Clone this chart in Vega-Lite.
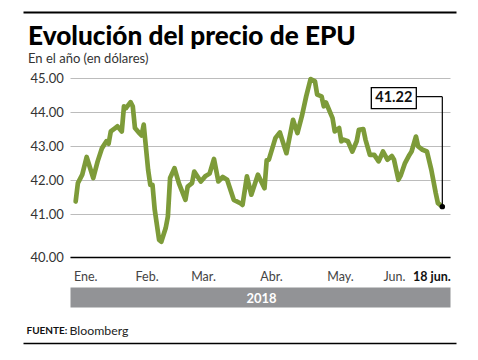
{
  "$schema": "https://vega.github.io/schema/vega-lite/v6.json",
  "width": 380,
  "height": 179,
  "autosize": "none",
  "padding": {"left": 70, "top": 78, "right": 28, "bottom": 103},
  "config": {"view": {"stroke": null}, "font": "Lato", "axis": {"labelFont": "Lato", "titleFont": "Lato"}},
  "title": {
    "text": "Evolución del precio de EPU",
    "subtitle": "En el año (en dólares)",
    "anchor": "start",
    "frame": "group",
    "font": "Lato",
    "fontSize": 26.2,
    "fontWeight": 900,
    "color": "#000",
    "subtitleFont": "Lato",
    "subtitleFontSize": 13,
    "subtitleColor": "#333",
    "subtitlePadding": 3,
    "dx": -42,
    "dy": 58
  },
  "datasets": {
    "series": [
      {"date": "2018-01-02", "price": 41.37},
      {"date": "2018-01-03", "price": 41.91},
      {"date": "2018-01-05", "price": 42.16},
      {"date": "2018-01-07", "price": 42.68},
      {"date": "2018-01-10", "price": 42.06},
      {"date": "2018-01-12", "price": 42.55},
      {"date": "2018-01-14", "price": 42.94},
      {"date": "2018-01-16", "price": 43.14},
      {"date": "2018-01-17", "price": 43.07},
      {"date": "2018-01-18", "price": 43.43},
      {"date": "2018-01-20", "price": 43.53},
      {"date": "2018-01-21", "price": 43.58},
      {"date": "2018-01-23", "price": 43.43},
      {"date": "2018-01-24", "price": 44.17},
      {"date": "2018-01-25", "price": 44.12},
      {"date": "2018-01-27", "price": 44.29},
      {"date": "2018-01-28", "price": 44.17},
      {"date": "2018-01-29", "price": 43.53},
      {"date": "2018-01-31", "price": 43.38},
      {"date": "2018-02-01", "price": 43.31},
      {"date": "2018-02-02", "price": 43.63},
      {"date": "2018-02-04", "price": 42.30},
      {"date": "2018-02-05", "price": 41.86},
      {"date": "2018-02-06", "price": 41.86},
      {"date": "2018-02-07", "price": 41.13},
      {"date": "2018-02-09", "price": 40.24},
      {"date": "2018-02-10", "price": 40.19},
      {"date": "2018-02-12", "price": 40.59},
      {"date": "2018-02-13", "price": 40.93},
      {"date": "2018-02-14", "price": 42.06},
      {"date": "2018-02-16", "price": 42.35},
      {"date": "2018-02-18", "price": 41.91},
      {"date": "2018-02-21", "price": 41.42},
      {"date": "2018-02-22", "price": 41.81},
      {"date": "2018-02-24", "price": 41.91},
      {"date": "2018-02-25", "price": 42.25},
      {"date": "2018-02-28", "price": 41.96},
      {"date": "2018-03-02", "price": 42.11},
      {"date": "2018-03-04", "price": 42.19},
      {"date": "2018-03-06", "price": 42.62},
      {"date": "2018-03-08", "price": 41.96},
      {"date": "2018-03-10", "price": 42.09},
      {"date": "2018-03-12", "price": 42.01},
      {"date": "2018-03-13", "price": 41.81},
      {"date": "2018-03-15", "price": 41.42},
      {"date": "2018-03-18", "price": 41.32},
      {"date": "2018-03-19", "price": 41.27},
      {"date": "2018-03-21", "price": 42.11},
      {"date": "2018-03-23", "price": 41.57},
      {"date": "2018-03-26", "price": 42.16},
      {"date": "2018-03-29", "price": 41.76},
      {"date": "2018-03-30", "price": 42.58},
      {"date": "2018-03-31", "price": 42.60},
      {"date": "2018-04-03", "price": 43.24},
      {"date": "2018-04-05", "price": 43.40},
      {"date": "2018-04-08", "price": 42.79},
      {"date": "2018-04-11", "price": 43.77},
      {"date": "2018-04-13", "price": 43.38},
      {"date": "2018-04-15", "price": 43.87},
      {"date": "2018-04-17", "price": 44.46},
      {"date": "2018-04-19", "price": 44.97},
      {"date": "2018-04-21", "price": 44.90},
      {"date": "2018-04-22", "price": 44.51},
      {"date": "2018-04-24", "price": 44.46},
      {"date": "2018-04-25", "price": 44.17},
      {"date": "2018-04-26", "price": 44.28},
      {"date": "2018-04-29", "price": 43.82},
      {"date": "2018-04-30", "price": 43.43},
      {"date": "2018-05-02", "price": 43.53},
      {"date": "2018-05-03", "price": 43.14},
      {"date": "2018-05-04", "price": 43.19},
      {"date": "2018-05-06", "price": 43.14},
      {"date": "2018-05-08", "price": 42.84},
      {"date": "2018-05-10", "price": 43.14},
      {"date": "2018-05-11", "price": 43.48},
      {"date": "2018-05-13", "price": 43.50},
      {"date": "2018-05-14", "price": 43.19},
      {"date": "2018-05-16", "price": 42.74},
      {"date": "2018-05-18", "price": 42.74},
      {"date": "2018-05-20", "price": 42.55},
      {"date": "2018-05-22", "price": 42.84},
      {"date": "2018-05-24", "price": 42.60},
      {"date": "2018-05-26", "price": 42.71},
      {"date": "2018-05-27", "price": 42.60},
      {"date": "2018-05-29", "price": 42.01},
      {"date": "2018-05-30", "price": 42.13},
      {"date": "2018-06-01", "price": 42.50},
      {"date": "2018-06-03", "price": 42.74},
      {"date": "2018-06-04", "price": 42.84},
      {"date": "2018-06-06", "price": 43.28},
      {"date": "2018-06-07", "price": 42.99},
      {"date": "2018-06-09", "price": 42.89},
      {"date": "2018-06-11", "price": 42.84},
      {"date": "2018-06-13", "price": 42.30},
      {"date": "2018-06-15", "price": 41.62},
      {"date": "2018-06-16", "price": 41.32},
      {"date": "2018-06-18", "price": 41.22}
    ],
    "annot": [
      {"date": "2018-06-18", "price": 41.22, "label": "41.22"}
    ]
  },
  "encoding": {
    "y": {
      "field": "price", "type": "quantitative",
      "scale": {"domain": [39.74, 45], "zero": false, "nice": false},
      "axis": {
        "values": [39.74, 41, 42, 43, 44, 45],
        "labelExpr": "datum.value < 40 ? '40.00' : format(datum.value, '.2f')",
        "labelAlign": "left",
        "labelBaseline": "middle",
        "labelPadding": 40,
        "labelFontSize": 13,
        "labelColor": "#333",
        "labelOverlap": false,
        "ticks": false,
        "domain": false,
        "grid": true,
        "gridColor": "#bcbcbc",
        "gridWidth": 1,
        "title": "FUENTE:",
        "titleAngle": 0,
        "titleAlign": "left",
        "titleBaseline": "middle",
        "titleX": -44,
        "titleY": 252,
        "titleFontSize": 10,
        "titleFontWeight": "bold",
        "titleColor": "#111"
      }
    }
  },
  "resolve": {"scale": {"x": "independent"}, "axis": {"x": "independent"}},
  "layer": [
    {
      "data": {"name": "series"},
      "mark": {"type": "line", "color": "#7d9b39", "strokeWidth": 4.7, "strokeJoin": "round", "strokeCap": "round"},
      "encoding": {
        "x": {
          "field": "date", "type": "temporal",
          "scale": {"type": "utc", "domain": [{"year": 2017, "month": 12, "date": 30, "hours": 10, "utc": true}, {"year": 2018, "month": 6, "date": 21, "hours": 12, "utc": true}]},
          "axis": {
            "orient": "bottom",
            "values": [
              {"year": 2018, "month": 1, "date": 1, "utc": true},
              {"year": 2018, "month": 2, "date": 1, "utc": true},
              {"year": 2018, "month": 3, "date": 1, "utc": true},
              {"year": 2018, "month": 4, "date": 1, "utc": true},
              {"year": 2018, "month": 5, "date": 1, "utc": true},
              {"year": 2018, "month": 6, "date": 1, "utc": true},
              {"year": 2018, "month": 6, "date": 18, "utc": true}
            ],
            "labelExpr": "utcdate(datum.value) == 18 ? '18 jun.' : ['Ene.', 'Feb.', 'Mar.', 'Abr.', 'May.', 'Jun.'][utcmonth(datum.value)]",
            "labelAlign": {"condition": [{"test": "utcmonth(datum.value) == 0", "value": "left"}, {"test": "utcmonth(datum.value) == 5", "value": "right"}], "value": "center"},
            "labelOffset": {"condition": [{"test": "utcdate(datum.value) == 18", "value": 8}, {"test": "utcmonth(datum.value) == 1", "value": 5}, {"test": "utcmonth(datum.value) == 4", "value": 3}], "value": 0},
            "labelFontWeight": {"condition": {"test": "utcdate(datum.value) == 18", "value": "bold"}, "value": "normal"},
            "labelColor": {"condition": {"test": "utcdate(datum.value) == 18", "value": "#111"}, "value": "#444"},
            "labelFontSize": 12.5,
            "labelPadding": 13,
            "labelOverlap": false,
            "labelFlush": false,
            "labelBound": false,
            "ticks": false,
            "grid": false,
            "domainColor": "#000",
            "domainWidth": 1.5,
            "title": "Bloomberg",
            "titleFontWeight": "normal",
            "titleFontSize": 12.3,
            "titleColor": "#222",
            "titleAlign": "left",
            "titleBaseline": "middle",
            "titleX": -1,
            "titleY": 73
          }
        }
      }
    },
    {
      "data": {"name": "annot"},
      "mark": {"type": "rule", "color": "#000", "strokeWidth": 1.2, "xOffset": -26, "x2Offset": 0, "yOffset": -110},
      "encoding": {
        "x": {"field": "date", "type": "temporal", "scale": {"type": "utc", "domain": [{"year": 2017, "month": 12, "date": 30, "hours": 10, "utc": true}, {"year": 2018, "month": 6, "date": 21, "hours": 12, "utc": true}]}, "axis": null},
        "x2": {"field": "date"}
      }
    },
    {
      "data": {"name": "annot"},
      "mark": {"type": "rule", "color": "#000", "strokeWidth": 1.2, "y2Offset": -110},
      "encoding": {
        "x": {"field": "date", "type": "temporal", "scale": {"type": "utc", "domain": [{"year": 2017, "month": 12, "date": 30, "hours": 10, "utc": true}, {"year": 2018, "month": 6, "date": 21, "hours": 12, "utc": true}]}, "axis": null},
        "y2": {"field": "price"}
      }
    },
    {
      "data": {"name": "annot"},
      "mark": {"type": "rect", "fill": "#fff", "stroke": "#000", "strokeWidth": 1.3, "xOffset": -71, "x2Offset": -26, "yOffset": -119, "y2Offset": -98},
      "encoding": {
        "x": {"field": "date", "type": "temporal", "scale": {"type": "utc", "domain": [{"year": 2017, "month": 12, "date": 30, "hours": 10, "utc": true}, {"year": 2018, "month": 6, "date": 21, "hours": 12, "utc": true}]}, "axis": null},
        "x2": {"field": "date"},
        "y2": {"field": "price"}
      }
    },
    {
      "data": {"name": "annot"},
      "mark": {"type": "text", "font": "Lato", "fontWeight": "bold", "fontSize": 14.5, "color": "#111", "align": "center", "baseline": "middle", "xOffset": -48.5, "yOffset": -108.5},
      "encoding": {
        "x": {"field": "date", "type": "temporal", "scale": {"type": "utc", "domain": [{"year": 2017, "month": 12, "date": 30, "hours": 10, "utc": true}, {"year": 2018, "month": 6, "date": 21, "hours": 12, "utc": true}]}, "axis": null},
        "text": {"field": "label"}
      }
    },
    {
      "data": {"name": "annot"},
      "mark": {"type": "circle", "color": "#000", "size": 30, "opacity": 1},
      "encoding": {
        "x": {
          "field": "date", "type": "temporal",
          "scale": {"type": "utc", "domain": [{"year": 2017, "month": 12, "date": 30, "hours": 10, "utc": true}, {"year": 2018, "month": 6, "date": 21, "hours": 12, "utc": true}]},
          "axis": {
            "orient": "bottom", "offset": 40, "domain": true, "domainColor": "#929396", "domainWidth": 20,
            "labels": false, "ticks": false, "grid": false,
            "title": "2018", "titleColor": "#fff", "titleFontWeight": "bold", "titleFontSize": 13,
            "titleAlign": "center", "titleBaseline": "middle", "titleX": 191, "titleY": 1
          }
        }
      }
    },
    {
      "data": {"name": "annot"},
      "mark": {"type": "point", "opacity": 0},
      "encoding": {
        "x": {
          "field": "date", "type": "temporal",
          "scale": {"type": "utc", "domain": [{"year": 2017, "month": 12, "date": 30, "hours": 10, "utc": true}, {"year": 2018, "month": 6, "date": 21, "hours": 12, "utc": true}], "range": [-47, 386]},
          "axis": {"orient": "top", "offset": 66, "domain": true, "domainColor": "#000", "domainWidth": 2, "labels": false, "ticks": false, "grid": false, "title": null}
        }
      }
    },
    {
      "data": {"name": "annot"},
      "mark": {"type": "point", "opacity": 0},
      "encoding": {
        "x": {
          "field": "date", "type": "temporal",
          "scale": {"type": "utc", "domain": [{"year": 2017, "month": 12, "date": 30, "hours": 10, "utc": true}, {"year": 2018, "month": 6, "date": 21, "hours": 12, "utc": true}], "range": [-47, 386]},
          "axis": {"orient": "bottom", "offset": 86, "domain": true, "domainColor": "#000", "domainWidth": 1.5, "labels": false, "ticks": false, "grid": false, "title": null}
        }
      }
    }
  ]
}
